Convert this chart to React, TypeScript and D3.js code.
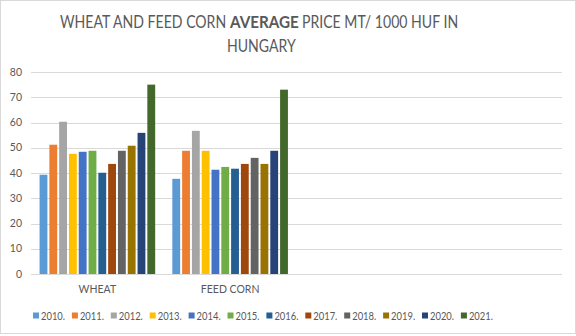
import React from "react";
import * as d3 from "d3";

const categories = ["WHEAT", "FEED CORN", "", ""];
const years = ["2010.", "2011.", "2012.", "2013.", "2014.", "2015.", "2016.", "2017.", "2018.", "2019.", "2020.", "2021."];
const wheat = [39.3, 51.2, 60.3, 47.6, 48.4, 48.8, 40.1, 43.6, 48.8, 50.8, 55.9, 75];
const feedCorn = [37.7, 48.8, 56.7, 48.8, 41.3, 42.4, 41.7, 43.6, 46, 43.6, 48.8, 73];
const yTicks = [0, 10, 20, 30, 40, 50, 60, 70, 80];
const colors = ["#5B9BD5", "#ED7D31", "#A5A5A5", "#FFC000", "#4472C4", "#70AD47", "#255E91", "#9E480E", "#636363", "#997300", "#264478", "#43682B"];

const W = 576;
const H = 336;
const FONT = "Lato, 'Open Sans', sans-serif";
const TXT = "#595959";
const SX = 0.805;

export default function App() {
  const values: number[][] = [wheat, feedCorn, [], []];
  const x = d3.scaleBand<string>().domain(categories.map((c, i) => String(i))).range([31, 562]).padding(0);
  const inner = d3.scaleBand<string>().domain(years).range([0, x.bandwidth()]).paddingInner(0.2).paddingOuter(0.875);
  const y = d3.scaleLinear().domain([0, 80]).range([274, 72]);
  const legendStep = 38.9;
  const legendX0 = 33;

  return (
    <svg width={W} height={H} style={{ position: "absolute", left: 0, top: 0 }} fontFamily={FONT}>
      <rect x={0.5} y={0.5} width={575} height={333} fill="#fff" stroke="#D9D9D9" />
      <text transform={`translate(60,28) scale(${SX},1)`} fontSize={17.5} fill={TXT}>WHEAT AND FEED CORN</text>
      <text transform={`translate(230,28) scale(0.87,1)`} fontSize={17.5} fontWeight="bold" fill={TXT}>AVERAGE</text>
      <text transform={`translate(302,28) scale(${SX},1)`} fontSize={17.5} fill={TXT}>PRICE MT/ 1000 HUF IN</text>
      <text transform={`translate(227,52) scale(${SX},1)`} fontSize={17.5} fill={TXT}>HUNGARY</text>
      {yTicks.map((t) => (
        <g key={t}>
          <line x1={31} x2={562} y1={Math.round(y(t)) + 0.5} y2={Math.round(y(t)) + 0.5} stroke="#D9D9D9" strokeWidth={1} />
          <text x={22} y={y(t)} dy="0.35em" textAnchor="end" fontSize={10.5} fill={TXT}>{t}</text>
        </g>
      ))}
      {categories.map((c, ci) => (
        <g key={ci} transform={`translate(${x(String(ci))},0)`}>
          {values[ci].map((v, yi) => (
            <rect key={yi} x={inner(years[yi])} y={y(v)} width={inner.bandwidth()} height={y(0) - y(v)} fill={colors[yi]} />
          ))}
          {c && (
            <text x={x.bandwidth() / 2} y={293} textAnchor="middle" fontSize={10.5} fill={TXT}>{c}</text>
          )}
        </g>
      ))}
      {years.map((yr, i) => (
        <g key={yr} transform={`translate(${legendX0 + i * legendStep},316)`}>
          <rect x={0} y={-3.5} width={6} height={6} fill={colors[i]} />
          <text x={8} y={0} dy="0.35em" fontSize={10.5} fill={TXT} textLength={24} lengthAdjust="spacingAndGlyphs">{yr}</text>
        </g>
      ))}
    </svg>
  );
}
